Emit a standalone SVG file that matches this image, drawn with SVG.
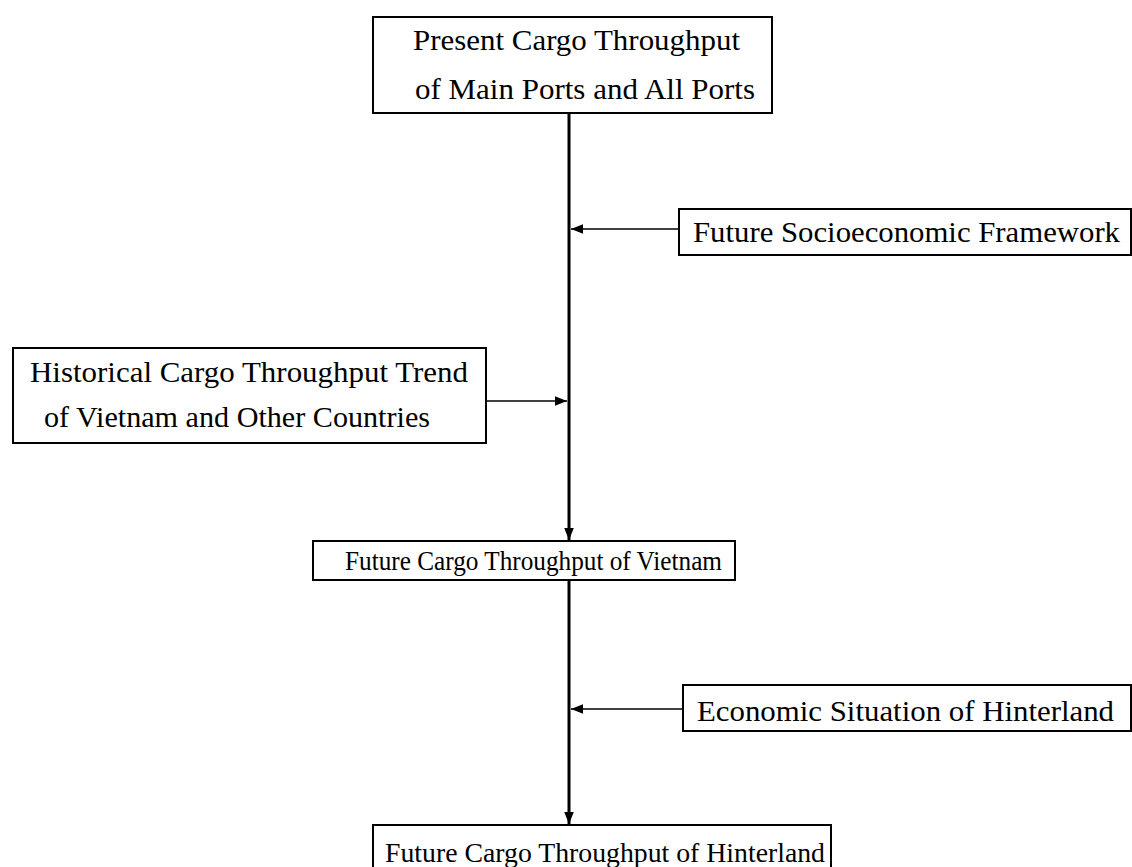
<svg xmlns="http://www.w3.org/2000/svg" width="1132" height="867" viewBox="0 0 1132 867">
<style>
.box{fill:#fff;stroke:#000;stroke-width:2}
.t{font-family:"Liberation Serif","Times New Roman",serif;fill:#000}
.ln{stroke:#000;fill:none}
</style>
<defs>
<marker id="ah" viewBox="0 0 10 10" refX="10" refY="5" markerWidth="12" markerHeight="12" markerUnits="userSpaceOnUse" orient="auto">
<path d="M0,1 L10,5 L0,9 z" fill="#000"/>
</marker>
</defs>
<rect width="1132" height="867" fill="#fff"/>
<g id="connectors">
<line class="ln" x1="569" y1="113" x2="569" y2="540" stroke-width="3" marker-end="url(#ah)"/>
<line class="ln" x1="569" y1="580" x2="569" y2="824" stroke-width="3" marker-end="url(#ah)"/>
<line class="ln" x1="679" y1="229" x2="571" y2="229" stroke-width="1.5" marker-end="url(#ah)"/>
<line class="ln" x1="486" y1="401" x2="567" y2="401" stroke-width="1.5" marker-end="url(#ah)"/>
<line class="ln" x1="683" y1="709" x2="571" y2="709" stroke-width="1.5" marker-end="url(#ah)"/>
</g>
<g id="present">
<rect class="box" x="373" y="17" width="399" height="96"/>
<text class="t" x="413" y="50" font-size="29" textLength="327" lengthAdjust="spacingAndGlyphs">Present Cargo Throughput</text>
<text class="t" x="415" y="99" font-size="29" textLength="340" lengthAdjust="spacingAndGlyphs">of Main Ports and All Ports</text>
</g>
<g id="socio">
<rect class="box" x="679" y="209" width="452" height="46"/>
<text class="t" x="693" y="242" font-size="29" textLength="427" lengthAdjust="spacingAndGlyphs">Future Socioeconomic Framework</text>
</g>
<g id="historical">
<rect class="box" x="13" y="348" width="473" height="95"/>
<text class="t" x="30" y="382" font-size="29" textLength="438" lengthAdjust="spacingAndGlyphs">Historical Cargo Throughput Trend</text>
<text class="t" x="44" y="427" font-size="29" textLength="386" lengthAdjust="spacingAndGlyphs">of Vietnam and Other Countries</text>
</g>
<g id="vietnam">
<rect class="box" x="313" y="541" width="422" height="39"/>
<text class="t" x="345" y="570" font-size="28" textLength="377" lengthAdjust="spacingAndGlyphs">Future Cargo Throughput of Vietnam</text>
</g>
<g id="economic">
<rect class="box" x="683" y="685" width="448" height="46"/>
<text class="t" x="697" y="721" font-size="29" textLength="417" lengthAdjust="spacingAndGlyphs">Economic Situation of Hinterland</text>
</g>
<g id="hinterland">
<rect class="box" x="373" y="825" width="458" height="50"/>
<text class="t" x="385" y="862" font-size="28" textLength="440" lengthAdjust="spacingAndGlyphs">Future Cargo Throughput of Hinterland</text>
</g>
</svg>
